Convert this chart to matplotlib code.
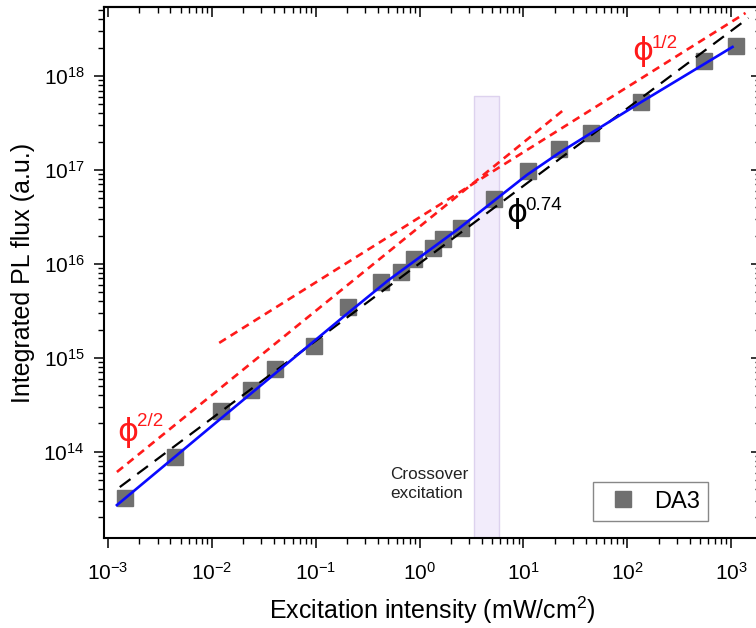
import matplotlib
matplotlib.use('Agg')
import matplotlib.pyplot as plt
from matplotlib.ticker import LogLocator, NullFormatter

plt.rcParams['font.family'] = ['Liberation Sans', 'DejaVu Sans']
plt.rcParams['mathtext.fontset'] = 'custom'
plt.rcParams['mathtext.rm'] = 'Liberation Sans'
plt.rcParams['mathtext.it'] = 'Liberation Sans:italic'
plt.rcParams['mathtext.bf'] = 'Liberation Sans:bold'
plt.rcParams['mathtext.sf'] = 'Liberation Sans'

# ---- data ----
intensity = [1.454e-3, 4.42e-3, 0.01216, 0.02406, 0.0404, 0.0953, 0.204, 0.421,
             0.661, 0.88, 1.337, 1.666, 2.48, 5.18, 11.07, 21.9, 44.8, 136, 544, 1101]
pl_flux = [3.21e13, 8.68e13, 2.68e14, 4.59e14, 7.6e14, 1.35e15, 3.48e15, 6.41e15,
           8.2e15, 1.125e16, 1.49e16, 1.86e16, 2.43e16, 4.91e16, 9.75e16, 1.67e17,
           2.47e17, 5.28e17, 1.445e18, 2.09e18]

fit_x = [1.22e-3, 0.01178, 0.1766, 0.497, 2.32, 10.8, 21.9, 44.8, 136, 1030]
fit_y = [2.7e13, 2.18e14, 2.62e15, 6.65e15, 2.32e16, 8.85e16, 1.51e17, 2.47e17, 5.28e17, 2.04e18]

slope074_x = [1.30e-3, 1466]
slope074_y = [4.2e13, 4.15e18]
slope_one_x = [1.22e-3, 25.0]
slope_one_y = [6.08e13, 4.46e17]
slope_half_x = [0.01178, 1374]
slope_half_y = [1.44e15, 4.69e18]

crossover_band = [3.37, 5.85]
band_top = 6.1e17

x_limits = [10 ** -3.038, 10 ** 3.287]
y_limits = [10 ** 13.081, 10 ** 18.735]
x_ticks = [1e-3, 1e-2, 1e-1, 1e0, 1e1, 1e2, 1e3]
y_ticks = [1e14, 1e15, 1e16, 1e17, 1e18]

series_label = 'DA3'
x_label = 'Excitation intensity (mW/cm$^{2}$)'
y_label = 'Integrated PL flux (a.u.)'
exponent_labels = ['0.74', '1/2', '2/2']

RED = '#ff1a1a'

# ---- figure ----
fig = plt.figure(figsize=(7.56, 6.28), dpi=100)
ax = fig.add_axes([104 / 756, 1 - 538 / 628, (761 - 104) / 756, (538 - 7) / 628])
ax.set_xscale('log')
ax.set_yscale('log')
ax.set_xlim(x_limits)
ax.set_ylim(y_limits)

ax.fill_betweenx([y_limits[0], band_top], crossover_band[0], crossover_band[1],
                 facecolor='#f2ecfb', edgecolor='#ddd2ee', linewidth=1.0, zorder=1)

ax.plot(intensity, pl_flux, linestyle='none', marker='s', markersize=11,
        color='#707070', label=series_label, zorder=2)

ax.plot(slope_one_x, slope_one_y, color=RED, lw=1.9, linestyle=(0, (3.0, 2.1)), zorder=3)
ax.plot(slope_half_x, slope_half_y, color=RED, lw=1.9, linestyle=(0, (3.0, 2.1)), zorder=3)
ax.plot(slope074_x, slope074_y, color='black', lw=1.6, linestyle=(0, (6.0, 3.8)), zorder=3)
ax.plot(fit_x, fit_y, color='#0a0aff', lw=1.9, zorder=4)

# exponent annotations (phi glyph + superscript), placed in axes fractions
phi_spots = [((0.6286, 0.6102), (0.6410, 0.6271), 'black'),
             ((0.8204, 0.9153), (0.8340, 0.9322), RED),
             ((0.0365, 0.1996), (0.0500, 0.2203), RED)]
for (phi_xy, sup_xy, col), sup in zip(phi_spots, exponent_labels):
    ax.text(phi_xy[0], phi_xy[1], '\u03d5', fontsize=23, family='DejaVu Sans',
            color=col, ha='center', va='center', transform=ax.transAxes)
    ax.text(sup_xy[0], sup_xy[1], sup, fontsize=13.5, color=col,
            ha='left', va='center', transform=ax.transAxes)

ax.text(0.519, 4.53e13, 'Crossover\nexcitation', fontsize=12.3, color='#222222',
        ha='left', va='center', linespacing=1.3)

# axes styling
for s in ax.spines.values():
    s.set_linewidth(1.5)
ax.set_xticks(x_ticks)
ax.set_yticks(y_ticks)
ax.xaxis.set_minor_locator(LogLocator(base=10, subs=range(2, 10), numticks=20))
ax.yaxis.set_minor_locator(LogLocator(base=10, subs=range(2, 10), numticks=20))
ax.xaxis.set_minor_formatter(NullFormatter())
ax.yaxis.set_minor_formatter(NullFormatter())
ax.tick_params(which='major', direction='out', length=7, width=1.1, labelsize=15)
ax.tick_params(which='minor', direction='out', length=4, width=1.0)
ax.tick_params(axis='x', which='major', pad=10)
ax.tick_params(axis='y', which='major', pad=7)

top = ax.secondary_xaxis('top')
top.set_xticks(x_ticks)
top.xaxis.set_minor_locator(LogLocator(base=10, subs=range(2, 10), numticks=20))
top.tick_params(which='major', direction='in', length=7, width=1.1, labeltop=False)
top.tick_params(which='minor', direction='in', length=4, width=1.0)
top.spines['top'].set_linewidth(1.5)
right = ax.secondary_yaxis('right')
right.set_yticks(y_ticks)
right.yaxis.set_minor_locator(LogLocator(base=10, subs=range(2, 10), numticks=20))
right.tick_params(which='major', direction='in', length=7, width=1.1, labelright=False)
right.tick_params(which='minor', direction='in', length=4, width=1.0)

ax.set_xlabel(x_label, fontsize=18, labelpad=8)
ax.set_ylabel(y_label, fontsize=18, labelpad=6)

leg = ax.legend(loc='lower right', bbox_to_anchor=(0.919, 0.032), borderaxespad=0,
                fontsize=17, frameon=True, fancybox=False, framealpha=1,
                edgecolor='#888888', handlelength=1.8, handletextpad=0.4,
                borderpad=0.35, markerscale=1.0)
leg.get_frame().set_linewidth(1.0)

fig.savefig('out.png', dpi=100)
